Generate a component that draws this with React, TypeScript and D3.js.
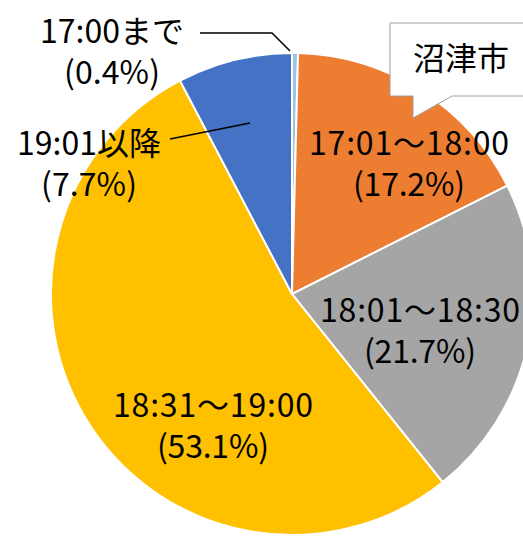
import * as d3 from "d3";
import { useEffect, useRef } from "react";

// 沼津市 帰宅時間の割合
const categories = ["17:00まで", "17:01～18:00", "18:01～18:30", "18:31～19:00", "19:01以降"];
const percents = [0.4, 17.2, 21.7, 53.1, 7.7];
const colors = ["#9dc3e6", "#ed7d31", "#a5a5a5", "#ffc000", "#4472c4"];
const cityName = "沼津市";

// label anchor positions (text centre, first baseline)
const labelPos = [
  [112, 43],
  [409, 155],
  [420, 322],
  [213, 417],
  [89, 155],
];

const W = 523;
const H = 538;
const FS = 32;

// the original font is monospaced: half width for ascii, full width otherwise
const textWidth = (s: string) =>
  Array.from(s).reduce((w, ch) => w + (ch === "～" ? FS * 1.25 : ch.charCodeAt(0) < 0x2000 ? FS / 2 : FS), 0);

const App = () => {
  const ref = useRef<SVGSVGElement>(null);

  useEffect(() => {
    document.body.style.margin = "0";
    const svg = d3.select(ref.current);
    svg.selectAll("*").remove();

    const cx = 292, cy = 294, radius = 241;
    const data = categories.map((c, i) => ({ name: c, value: percents[i], color: colors[i] }));

    const pie = d3.pie<any>().sort(null).value((d) => d.value);
    const arc = d3.arc<any>().innerRadius(0).outerRadius(radius);

    const g = svg.append("g").attr("transform", `translate(${cx},${cy})`);
    g.selectAll("path")
      .data(pie(data))
      .join("path")
      .attr("d", arc)
      .attr("fill", (d) => d.data.color)
      .attr("stroke", "#fff")
      .attr("stroke-width", 2);

    // leader lines
    svg.append("path")
      .attr("d", "M200,33L272,33L290,51")
      .attr("fill", "none")
      .attr("stroke", "#000")
      .attr("stroke-width", 1.5);
    svg.append("path")
      .attr("d", "M170,139L250,123")
      .attr("fill", "none")
      .attr("stroke", "#000")
      .attr("stroke-width", 1.5);

    // data labels
    const font = "'Noto Sans CJK JP', 'Noto Sans', sans-serif";
    const addText = (x: number, y: number, s: string) =>
      svg.append("text")
        .attr("x", x)
        .attr("y", y)
        .attr("text-anchor", "middle")
        .attr("font-family", font)
        .attr("font-size", FS)
        .attr("textLength", textWidth(s))
        .attr("lengthAdjust", "spacing")
        .attr("fill", "#000")
        .text(s);

    data.forEach((d, i) => {
      const [x, y] = labelPos[i];
      addText(x, y, d.name);
      addText(x, y + 41, `(${d.value.toFixed(1)}%)`);
    });

    // callout
    svg.append("path")
      .attr("d", "M390,23L530,23L530,96L452,96L413,118L413,96L390,96Z")
      .attr("fill", "#fff")
      .attr("stroke", "#a0a0a0")
      .attr("stroke-width", 1);
    svg.append("text")
      .attr("x", 461)
      .attr("y", 70)
      .attr("text-anchor", "middle")
      .attr("font-family", font)
      .attr("font-size", FS)
      .attr("fill", "#000")
      .text(cityName);
  }, []);

  return <svg width={W} height={H} style={{ display: "block", background: "#fff" }} ref={ref} />;
};

export default App;
